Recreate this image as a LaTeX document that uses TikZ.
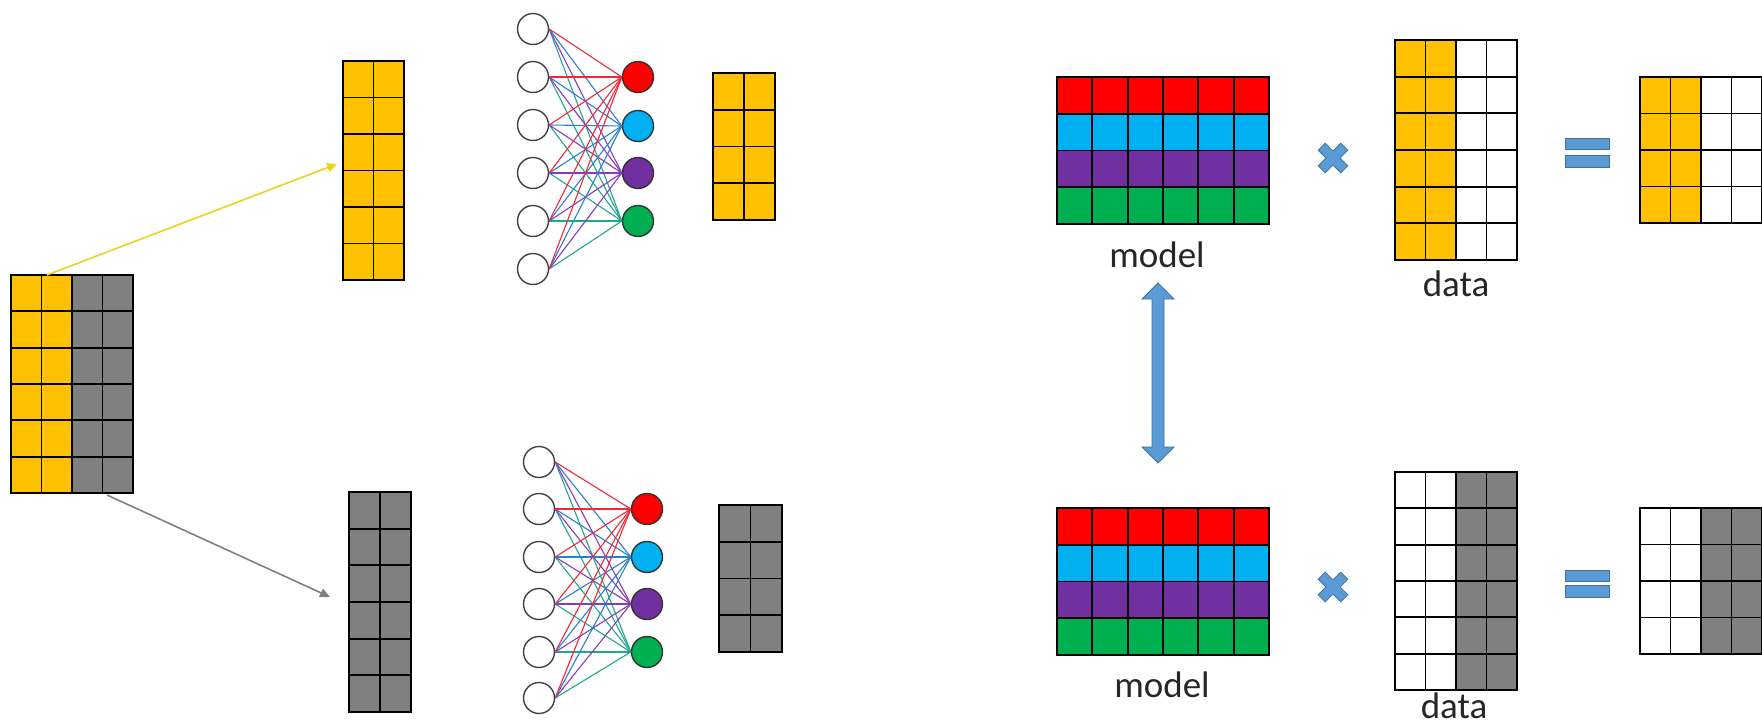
\documentclass[tikz,border=0pt]{standalone}
\usepackage{fontspec}
\setmainfont{Carlito}
\usetikzlibrary{arrows.meta}
\definecolor{myyellow}{HTML}{FFC000}
\definecolor{mygray}{HTML}{808080}
\definecolor{myred}{HTML}{FF0000}
\definecolor{myblue}{HTML}{00B0F0}
\definecolor{mypurple}{HTML}{7030A0}
\definecolor{mygreen}{HTML}{00B050}
\definecolor{signblue}{HTML}{5B9BD5}
\definecolor{signedge}{HTML}{41719C}
\definecolor{lred}{HTML}{F02838}
\definecolor{lblue}{HTML}{2A7FD0}
\definecolor{lpurple}{HTML}{8A3CB8}
\definecolor{lgreen}{HTML}{1FA88C}
\definecolor{arrowyellow}{HTML}{EAD21E}
\definecolor{txt}{HTML}{262626}

\tikzset{
  gridline/.style={line width=1.8pt, black},
  matbox/.style={inner sep=0pt, outer sep=0pt, draw=none, anchor=north west},
  innode/.style={circle, draw=black!75, line width=1.4pt, fill=white, minimum size=31pt, inner sep=0pt},
  outnode/.style={circle, draw=black!80, line width=1.4pt, minimum size=31pt, inner sep=0pt},
  edge/.style={line width=1.1pt},
  signshape/.style={fill=signblue, draw=signedge, line width=0.8pt},
  splitarrow/.style={line width=1.6pt, -{Triangle[length=10pt,width=9pt]}},
  lbl/.style={anchor=base, text=txt, font=\fontsize{37}{44}\selectfont, inner sep=0pt}
}

\newcommand{\MyGrid}[6]{%
  \pgfmathsetmacro\gcw{(#3-#1)/#5}%
  \pgfmathsetmacro\grh{(#4-#2)/#6}%
  \pgfmathtruncatemacro\gnc{#5-1}%
  \pgfmathtruncatemacro\gnr{#6-1}%
  \foreach \gi in {1,...,\gnc} {\draw[gridline] ({#1+\gi*\gcw},#2) -- ({#1+\gi*\gcw},#4);}%
  \foreach \gj in {1,...,\gnr} {\draw[gridline] (#1,{#2+\gj*\grh}) -- (#3,{#2+\gj*\grh});}%
  \draw[gridline] (#1,#2) rectangle (#3,#4);%
}

\begin{document}
\begin{tikzpicture}[x=1pt, y=-1pt]
\useasboundingbox (0,0) rectangle (1762,725);

% ---------- big split matrix ----------
\node[matbox, minimum width=122pt, minimum height=218pt] (big) at (11,275) {};
\fill[myyellow] (11,275) rectangle (72,493);
\fill[mygray] (72,275) rectangle (133,493);
\MyGrid{11}{275}{133}{493}{4}{6}

% ---------- yellow / gray halves ----------
\node[matbox, minimum width=61pt, minimum height=219pt] (ycol) at (343,61) {};
\fill[myyellow] (343,61) rectangle (404,280);
\MyGrid{343}{61}{404}{280}{2}{6}

\node[matbox, minimum width=62pt, minimum height=220pt] (gcol) at (349,492) {};
\fill[mygray] (349,492) rectangle (411,712);
\MyGrid{349}{492}{411}{712}{2}{6}

% ---------- split arrows ----------
\coordinate (ys) at (47,275);
\coordinate (ye) at (337,164);
\coordinate (gs) at (107,495);
\coordinate (ge) at (330,597);
\draw[splitarrow, arrowyellow] (ys) -- (ye);
\draw[splitarrow, mygray] (gs) -- (ge);

% ---------- top network ----------
\foreach \i/\y in {1/29,2/77,3/125,4/173,5/221,6/269}
  \node[innode] (ti\i) at (533,\y) {};
\foreach \j/\y/\c in {1/77/myred,2/126/myblue,3/173/mypurple,4/221/mygreen}
  \node[outnode, fill=\c] (to\j) at (638,\y) {};
\foreach \j/\c in {4/lgreen,3/lpurple,2/lblue,1/lred}
  \foreach \i in {1,...,6}
    \draw[edge, \c] (ti\i.east) -- (to\j.west);

% ---------- bottom network ----------
\foreach \i/\y in {1/462,2/509,3/557,4/604,5/652,6/698}
  \node[innode] (bi\i) at (539,\y) {};
\foreach \j/\y/\c in {1/509/myred,2/557/myblue,3/604/mypurple,4/652/mygreen}
  \node[outnode, fill=\c] (bo\j) at (647,\y) {};
\foreach \j/\c in {4/lgreen,3/lpurple,2/lblue,1/lred}
  \foreach \i in {1,...,6}
    \draw[edge, \c] (bi\i.east) -- (bo\j.west);

% ---------- small outputs ----------
\fill[myyellow] (713,73) rectangle (775,220);
\MyGrid{713}{73}{775}{220}{2}{4}
\fill[mygray] (719,505) rectangle (782,652);
\MyGrid{719}{505}{782}{652}{2}{4}

% ---------- model matrices ----------
\foreach \yy/\ee in {77/224, 508/655} {
  \pgfmathsetmacro\rr{(\ee-\yy)/4}
  \fill[myred]    (1057,\yy) rectangle (1269,{\yy+\rr});
  \fill[myblue]   (1057,{\yy+\rr}) rectangle (1269,{\yy+2*\rr});
  \fill[mypurple] (1057,{\yy+2*\rr}) rectangle (1269,{\yy+3*\rr});
  \fill[mygreen]  (1057,{\yy+3*\rr}) rectangle (1269,\ee);
}
\MyGrid{1057}{77}{1269}{224}{6}{4}
\MyGrid{1057}{508}{1269}{655}{6}{4}
\node[lbl] (m1) at (1157,267) {model};
\node[lbl] (m2) at (1162,697) {model};

% ---------- double arrow ----------
\draw[signshape] (1158,283) -- (1174,299) -- (1164,299) -- (1164,447) -- (1174,447)
  -- (1158,463) -- (1142,447) -- (1152,447) -- (1152,299) -- (1142,299) -- cycle;

% ---------- multiply signs ----------
\foreach \cy in {158,587} {
  \begin{scope}[shift={(1333,\cy)}, rotate=45]
    \draw[signshape] (5,16) -- (5,5) -- (16,5) -- (16,-5) -- (5,-5) -- (5,-16)
      -- (-5,-16) -- (-5,-5) -- (-16,-5) -- (-16,5) -- (-5,5) -- (-5,16) -- cycle;
  \end{scope}
}

% ---------- data matrices ----------
\fill[myyellow] (1395,40) rectangle (1456,260);
\MyGrid{1395}{40}{1517}{260}{4}{6}
\fill[mygray] (1456,472) rectangle (1517,690);
\MyGrid{1395}{472}{1517}{690}{4}{6}
\node[lbl] (d1) at (1456,296) {data};
\node[lbl] (d2) at (1454,718) {data};

% ---------- equals signs ----------
\draw[signshape] (1565,138) rectangle (1609,149);
\draw[signshape] (1565,155) rectangle (1609,167);
\draw[signshape] (1565,570) rectangle (1609,581);
\draw[signshape] (1565,585) rectangle (1609,597);

% ---------- result matrices ----------
\fill[myyellow] (1640,77) rectangle (1701,223);
\MyGrid{1640}{77}{1762}{223}{4}{4}
\fill[mygray] (1701,508) rectangle (1762,654);
\MyGrid{1640}{508}{1762}{654}{4}{4}
\end{tikzpicture}
\end{document}
